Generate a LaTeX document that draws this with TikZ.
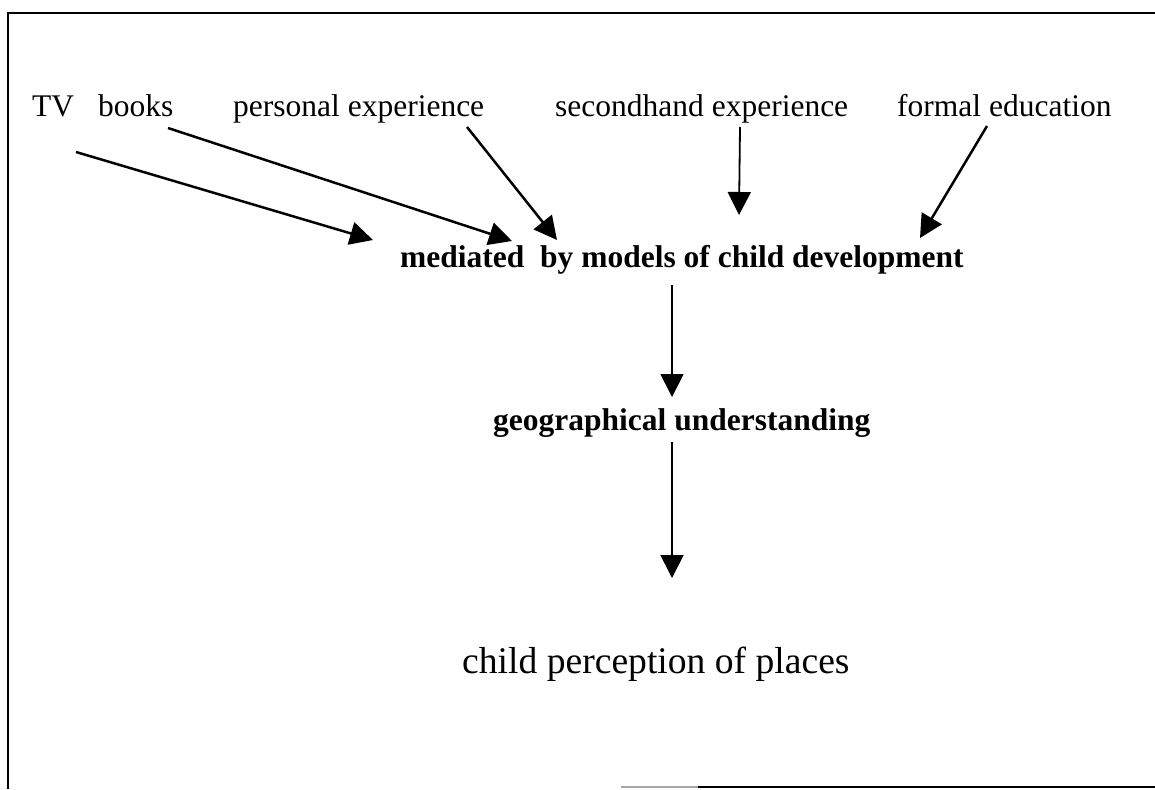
\documentclass[tikz,border=0pt]{standalone}
\usepackage{fontspec}
\setmainfont{Liberation Serif}
\usetikzlibrary{arrows.meta}
\tikzset{
  lbl/.style={inner sep=0pt, anchor=base west, font=\fontsize{31.5}{36}\selectfont},
  boldlbl/.style={inner sep=0pt, anchor=base west, font=\fontsize{31.5}{36}\selectfont\bfseries},
  biglbl/.style={inner sep=0pt, anchor=base west, font=\fontsize{37.6}{42}\selectfont},
  diagarrow/.style={line width=2.5pt, -{Triangle[length=23pt,width=23pt]}},
  vertarrow/.style={line width=1.8pt, -{Triangle[length=23pt,width=23pt]}},
  frame/.style={line width=2pt}
}
\begin{document}
\begin{tikzpicture}[x=1pt,y=-1pt]
\useasboundingbox (0,0) rectangle (1155,789);
\fill[white] (0,0) rectangle (1155,789);
% frame
\draw[frame] (8,789) -- (8,13) -- (1155,13);
\draw[line width=2pt, black!35] (621,787) -- (698,787);
\draw[line width=2pt] (698,787) -- (1155,787);
% labels
\node[lbl] (tv) at (32,117) {TV};
\node[lbl] (books) at (98,117) {books};
\node[lbl] (personal) at (233,117) {personal experience};
\node[lbl] (secondhand) at (555,117) {secondhand experience};
\node[lbl] (formal) at (897,117) {formal education};
\node[boldlbl] (mediated) at (400,267) {mediated\ \ by models of child development};
\node[boldlbl] (geo) at (493,430) {geographical understanding};
\node[biglbl] (child) at (462,673) {child perception of places};
% arrow ends
\coordinate (tvS) at (76,152);
\coordinate (tvE) at (373,240);
\coordinate (bkS) at (168,128);
\coordinate (bkE) at (512,241);
\coordinate (peS) at (467,127);
\coordinate (peE) at (557,240);
\coordinate (shS) at (740,127);
\coordinate (shE) at (739,215);
\coordinate (feS) at (987,126);
\coordinate (feE) at (920,238);
\coordinate (m1S) at (672,285);
\coordinate (m1E) at (672,397);
\coordinate (g1S) at (672,442);
\coordinate (g1E) at (672,578);
% connectors
\draw[diagarrow] (tvS) -- (tvE);
\draw[diagarrow] (bkS) -- (bkE);
\draw[diagarrow] (peS) -- (peE);
\draw[vertarrow] (shS) -- (shE);
\draw[diagarrow] (feS) -- (feE);
\draw[vertarrow] (m1S) -- (m1E);
\draw[vertarrow] (g1S) -- (g1E);
\end{tikzpicture}
\end{document}
